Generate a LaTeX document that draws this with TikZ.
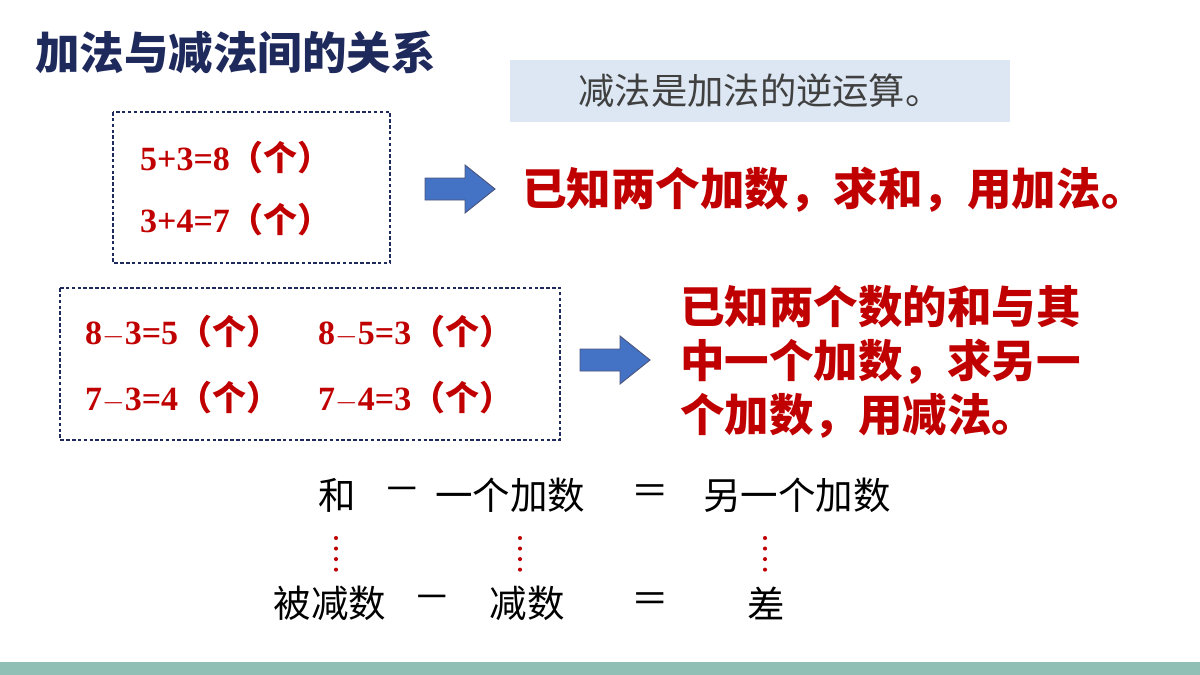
\documentclass[tikz,border=0pt]{standalone}
\usepackage{fontspec}
\setmainfont{Liberation Serif}
\newfontfamily\cjk{Noto Sans CJK SC}
\definecolor{navy}{HTML}{1F2A5C}
\definecolor{darkred}{HTML}{C00000}
\definecolor{paleblue}{HTML}{DCE7F3}
\definecolor{arrowblue}{HTML}{4472C4}
\definecolor{bar}{HTML}{8FBFB5}
\newcommand\blockarrow[2]{% centre x, centre y
  \filldraw[draw=navy!80, fill=arrowblue, line width=0.8pt]
    (#1-35,#2-11) -- (#1+5,#2-11) -- (#1+5,#2-24) -- (#1+35,#2) -- (#1+5,#2+24)
    -- (#1+5,#2+11) -- (#1-35,#2+11) -- cycle;}
\begin{document}
\begin{tikzpicture}[x=0.03cm, y=-0.03cm,
  title/.style = {text=navy, font=\cjk\bfseries\fontsize{38}{44}\selectfont, anchor=west, inner sep=0},
  eq/.style = {text=darkred, font=\bfseries\fontsize{29}{34}\selectfont, anchor=west, inner sep=0},
  rule/.style = {text=darkred, font=\cjk\bfseries\fontsize{38}{46}\selectfont, anchor=west, inner sep=0, align=left},
  plain/.style = {font=\cjk\fontsize{32}{38}\selectfont, inner sep=0},
  frame/.style = {draw=navy, line width=1pt, dash pattern=on 3pt off 2pt},
  dots/.style = {draw=darkred, line width=3.5pt, line cap=round, dash pattern=on 0pt off 9pt}]
  \useasboundingbox (0,0) rectangle (1200,675);
  \fill[bar] (0,662) rectangle (1200,675);

  \node[title] (head) at (35,52) {加法与减法间的关系};
  \node[fill=paleblue, minimum width=15cm, minimum height=1.86cm, font=\cjk\fontsize{31}{36}\selectfont, text=black!75] (inverse) at (760,91) {减法是加法的逆运算。};

  % addition
  \draw[frame] (113,112) rectangle (390,263);
  \node[eq] (a1) at (140,158) {5+3=8{\cjk（个）}};
  \node[eq] (a2) at (140,220) {3+4=7{\cjk（个）}};
  \blockarrow{460}{189}
  \node[rule] (ruleA) at (522,190) {已知两个加数，求和，用加法。};

  % subtraction
  \draw[frame] (60,288) rectangle (560,440);
  \node[eq] (s1) at (85,332) {8$-$3=5{\cjk（个）}};
  \node[eq] (s2) at (318,332) {8$-$5=3{\cjk（个）}};
  \node[eq] (s3) at (85,398) {7$-$3=4{\cjk（个）}};
  \node[eq] (s4) at (318,398) {7$-$4=3{\cjk（个）}};
  \blockarrow{615}{360}
  \node[rule] (ruleB) at (680,362) {已知两个数的和与其\\中一个加数，求另一\\个加数，用减法。};

  % names
  \node[plain] (sum) at (337,495) {和};
  \node[plain] (m1) at (402,495) {－};
  \node[plain] (add1) at (510,495) {一个加数};
  \node[plain] (e1) at (650,495) {＝};
  \node[plain] (add2) at (797,495) {另一个加数};
  \node[plain] (minuend) at (330,603) {被减数};
  \node[plain] (m2) at (432,603) {－};
  \node[plain] (subtr) at (527,603) {减数};
  \node[plain] (e2) at (650,603) {＝};
  \node[plain] (diff) at (766,603) {差};
  \draw[dots] (336,538) -- (336,570);
  \draw[dots] (520,538) -- (520,570);
  \draw[dots] (765,538) -- (765,570);
\end{tikzpicture}
\end{document}
